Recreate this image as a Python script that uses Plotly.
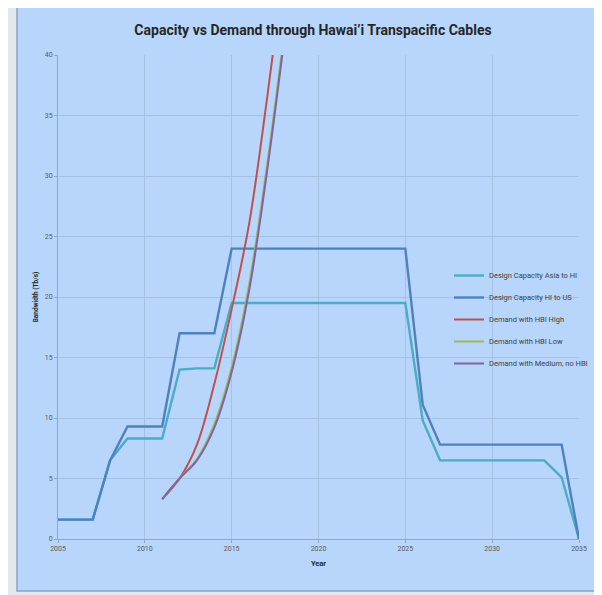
import plotly.graph_objects as go

years = list(range(2005, 2036))
cap_asia_hi = [1.6, 1.6, 1.6, 6.5, 8.3, 8.3, 8.3, 14.0, 14.1, 14.1,
               19.5, 19.5, 19.5, 19.5, 19.5, 19.5, 19.5, 19.5, 19.5, 19.5, 19.5,
               9.8, 6.5, 6.5, 6.5, 6.5, 6.5, 6.5, 6.5, 5.1, 0.0]
cap_hi_us = [1.6, 1.6, 1.6, 6.5, 9.3, 9.3, 9.3, 17.0, 17.0, 17.0,
             24.0, 24.0, 24.0, 24.0, 24.0, 24.0, 24.0, 24.0, 24.0, 24.0, 24.0,
             11.1, 7.8, 7.8, 7.8, 7.8, 7.8, 7.8, 7.8, 7.8, 0.0]

demand_years = [2011, 2012, 2013, 2014, 2015, 2016, 2017, 2018]
demand_high = [3.3, 5.0, 7.8, 12.8, 19.0, 26.0, 36.0, 47.0]
demand_low = [3.3, 5.0, 6.6, 9.5, 14.2, 21.0, 30.5, 41.5]
demand_medium = [3.3, 5.0, 6.5, 9.2, 13.8, 20.5, 30.0, 41.0]

x_ticks = [2005, 2010, 2015, 2020, 2025, 2030, 2035]
y_ticks = [0, 5, 10, 15, 20, 25, 30, 35, 40]

FONT = "Liberation Sans Narrow, Arial Narrow, Roboto, sans-serif"

series = [
    ("Design Capacity Asia to HI", years, cap_asia_hi, "#4bacc6", "linear", 2.4),
    ("Design Capacity HI to US", years, cap_hi_us, "#4f81bd", "linear", 2.4),
    ("Demand with HBI High", demand_years, demand_high, "#c0504d", "spline", 2.0),
    ("Demand with HBI Low", demand_years, demand_low, "#9bbb59", "spline", 2.0),
    ("Demand with Medium, no HBI", demand_years, demand_medium, "#8064a2", "spline", 2.0),
]

fig = go.Figure()
for i, (name, xs, ys, col, shp, lw) in enumerate(series):
    fig.add_trace(go.Scatter(x=xs, y=ys, name=name, mode="lines",
                             line=dict(color=col, width=lw, shape=shp),
                             legendgroup=f"g{i}"))

# page offset from browser body margin
OFF = 8
W, H = 602 - OFF, 595 - OFF
# plot area in reference page pixels: x 58..579, y 55..539
L = 58 - OFF
T = 55 - OFF
R = W - (579 - OFF)
B = H - (539 - OFF)
pw, ph = W - L - R, H - T - B

def px_x(p):
    return (p - OFF - L) / pw

def px_y(p):
    return (H - B - (p - OFF)) / ph

fig.add_shape(type="rect", xref="paper", yref="paper",
              x0=px_x(17), x1=px_x(598), y0=px_y(591), y1=px_y(4),
              fillcolor="#b8d6fb", line=dict(color="#86a3c9", width=1.5),
              layer="below")

fig.update_layout(
    width=W, height=H,
    margin=dict(l=L, r=R, t=T, b=B, autoexpand=False),
    paper_bgcolor="#e3e8ef",
    plot_bgcolor="rgba(0,0,0,0)",
    font=dict(family=FONT, color="#595959", size=7),
    title=dict(text="<b>Capacity vs Demand through Hawai’i Transpacific Cables</b>",
               x=(313 - OFF) / W, xanchor="center",
               y=1 - (30 - OFF) / H, yanchor="middle",
               font=dict(family=FONT, size=14, color="#262626")),
    showlegend=True,
    legend=dict(x=px_x(449), y=px_y(261), xanchor="left", yanchor="top",
                bgcolor="rgba(0,0,0,0)", traceorder="grouped",
                tracegroupgap=3, itemwidth=30,
                font=dict(family=FONT, size=7.5, color="#404040")),
    xaxis=dict(range=[2005, 2035], tickvals=x_ticks, ticktext=[str(t) for t in x_ticks],
               showgrid=True, gridcolor="#a6c1e2", gridwidth=1,
               showline=True, linecolor="#8fa8c8", linewidth=1,
               ticks="outside", ticklen=3, tickcolor="#8fa8c8",
               zeroline=False, automargin=False,
               tickfont=dict(size=7, color="#595959"),
               title=dict(text="<b>Year</b>", font=dict(size=7.5, color="#262626"),
                          standoff=8)),
    yaxis=dict(range=[0, 40], tickvals=y_ticks,
               showgrid=True, gridcolor="#a6c1e2", gridwidth=1,
               showline=True, linecolor="#8fa8c8", linewidth=1,
               ticks="outside", ticklen=3, tickcolor="#8fa8c8",
               zeroline=False, automargin=False,
               tickfont=dict(size=7, color="#595959"),
               title=dict(text="<b>Bandwidth (Tb/s)</b>", font=dict(size=6.5, color="#262626"),
                          standoff=5)),
)

fig.write_html("out.html")
